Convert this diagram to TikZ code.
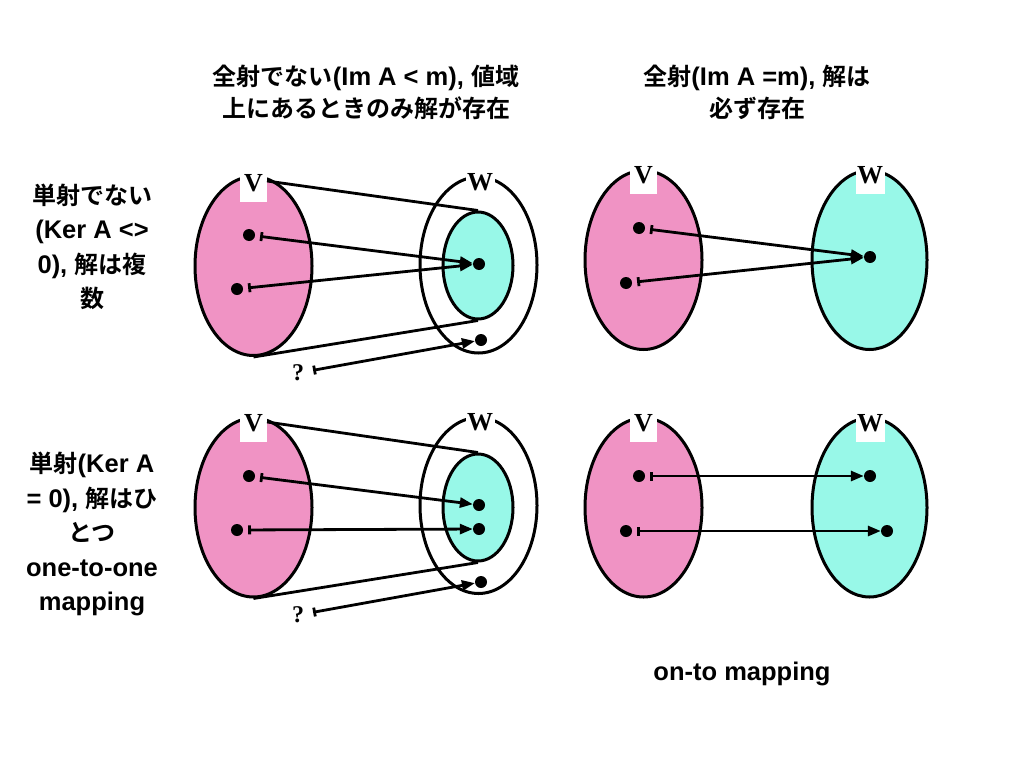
\documentclass[tikz,border=0pt]{standalone}
\usepackage{fontspec}
\usetikzlibrary{shapes.geometric,arrows.meta}
\newfontfamily\jpfont{Noto Sans CJK JP Bold}
\newfontfamily\latfont{Liberation Sans Bold}
\newfontfamily\setfont{Liberation Serif}
\newcommand\la[1]{{\latfont\fontsize{25.5}{34.5}\selectfont #1}}
\definecolor{vpink}{RGB}{240,147,196}
\definecolor{wcyan}{RGB}{152,248,232}

\begin{document}
\begin{tikzpicture}[x=1pt,y=-1pt,
    setV/.style={ellipse,draw,line width=3pt,fill=vpink,minimum width=117pt,minimum height=179pt,inner sep=0pt},
    setW/.style={setV,fill=wcyan,minimum width=115pt},
    outerW/.style={ellipse,draw,line width=3pt,minimum width=117pt,minimum height=176pt,inner sep=0pt},
    innerW/.style={ellipse,draw,line width=3pt,fill=wcyan,minimum width=70pt,minimum height=107pt,inner sep=0pt},
    lab/.style={fill=white,anchor=north,inner sep=1.5pt,minimum width=27pt,text height=18pt,text depth=9pt,font=\setfont\bfseries\fontsize{26}{26}\selectfont},
    pt/.style={circle,fill=black,inner sep=0pt,minimum size=12pt},
    qm/.style={inner sep=4pt,font=\setfont\bfseries\fontsize{24}{24}\selectfont},
    txt/.style={align=center,font=\jpfont\fontsize{24}{34.5}\selectfont},
    head/.style={txt,font=\jpfont\fontsize{24}{32}\selectfont},
    maps/.style={line width=2.8pt,{Bar[width=9pt]}-{Triangle[length=13pt,width=10pt]},shorten <=5pt},
    rim/.style={line width=2.8pt}]
\useasboundingbox (0,0) rectangle (1024,768);

% headings
\node[head] (hd1) at (366,92) {全射でない\la{(Im A < m), }値域\\上にあるときのみ解が存在};
\node[head] (hd2) at (757,92) {全射\la{(Im A =m), }解は\\必ず存在};
\node[txt] (rw1) at (92,247) {単射でない\\\la{(Ker A <>}\\\la{0), }解は複\\数};
\node[txt] (rw2) at (92,534) {単射\la{(Ker A}\\\la{= 0), }解はひ\\とつ\\\la{one-to-one}\\\la{mapping}};
\node[txt] (ft) at (742,674) {\la{on-to mapping}};

% top left
\node[setV] (vA) at (253.5,266) {};
\node[outerW] (woA) at (478.5,265) {};
\node[innerW] (wiA) at (478,265.5) {};
\node[lab] (vAl) at (253.5,172) {V};
\node[lab] (wAl) at (480,171) {W};
\coordinate (tA) at (267,181);
\draw[rim] (tA) -- (wiA.north);
\draw[rim] (vA.south) -- (wiA.south);
\node[pt] (a1) at (249,235) {};
\node[pt] (a2) at (237,289) {};
\node[pt] (b1) at (479,264) {};
\node[pt] (c1) at (481,340) {};
\node[qm] (qA) at (298,373) {?};
\draw[maps] (a1) -- (b1);
\draw[maps] (a2) -- (b1);
\draw[maps] (qA) -- (c1);

% top right
\node[setV] (vB) at (643.5,260) {};
\node[setW] (wB) at (869.5,260) {};
\node[lab] (vBl) at (643.5,164) {V};
\node[lab] (wBl) at (870,164) {W};
\node[pt] (d1) at (639,228) {};
\node[pt] (d2) at (626,283) {};
\node[pt] (e1) at (870,257) {};
\draw[maps] (d1) -- (e1);
\draw[maps] (d2) -- (e1);

% bottom left
\node[setV] (vC) at (253.5,507.5) {};
\node[outerW] (woC) at (478.5,505.5) {};
\node[innerW] (wiC) at (478,507.5) {};
\node[lab] (vCl) at (253.5,412) {V};
\node[lab] (wCl) at (480,411) {W};
\coordinate (tC) at (267,422);
\draw[rim] (tC) -- (wiC.north);
\draw[rim] (vC.south) -- (wiC.south);
\node[pt] (f1) at (249,476) {};
\node[pt] (f2) at (237,530) {};
\node[pt] (g1) at (479,505) {};
\node[pt] (g2) at (479,529) {};
\node[pt] (h1) at (481,582) {};
\node[qm] (qC) at (298,615) {?};
\draw[maps] (f1) -- (g1);
\draw[maps] (f2) -- (g2);
\draw[maps] (qC) -- (h1);

% bottom right
\node[setV] (vD) at (643.5,507.5) {};
\node[setW] (wD) at (869.5,507.5) {};
\node[lab] (vDl) at (643.5,412) {V};
\node[lab] (wDl) at (870,412) {W};
\node[pt] (k1) at (639,476) {};
\node[pt] (k2) at (626,531) {};
\node[pt] (m1) at (870,476) {};
\node[pt] (m2) at (887,531) {};
\draw[maps] (k1) -- (m1);
\draw[maps] (k2) -- (m2);

\end{tikzpicture}
\end{document}
